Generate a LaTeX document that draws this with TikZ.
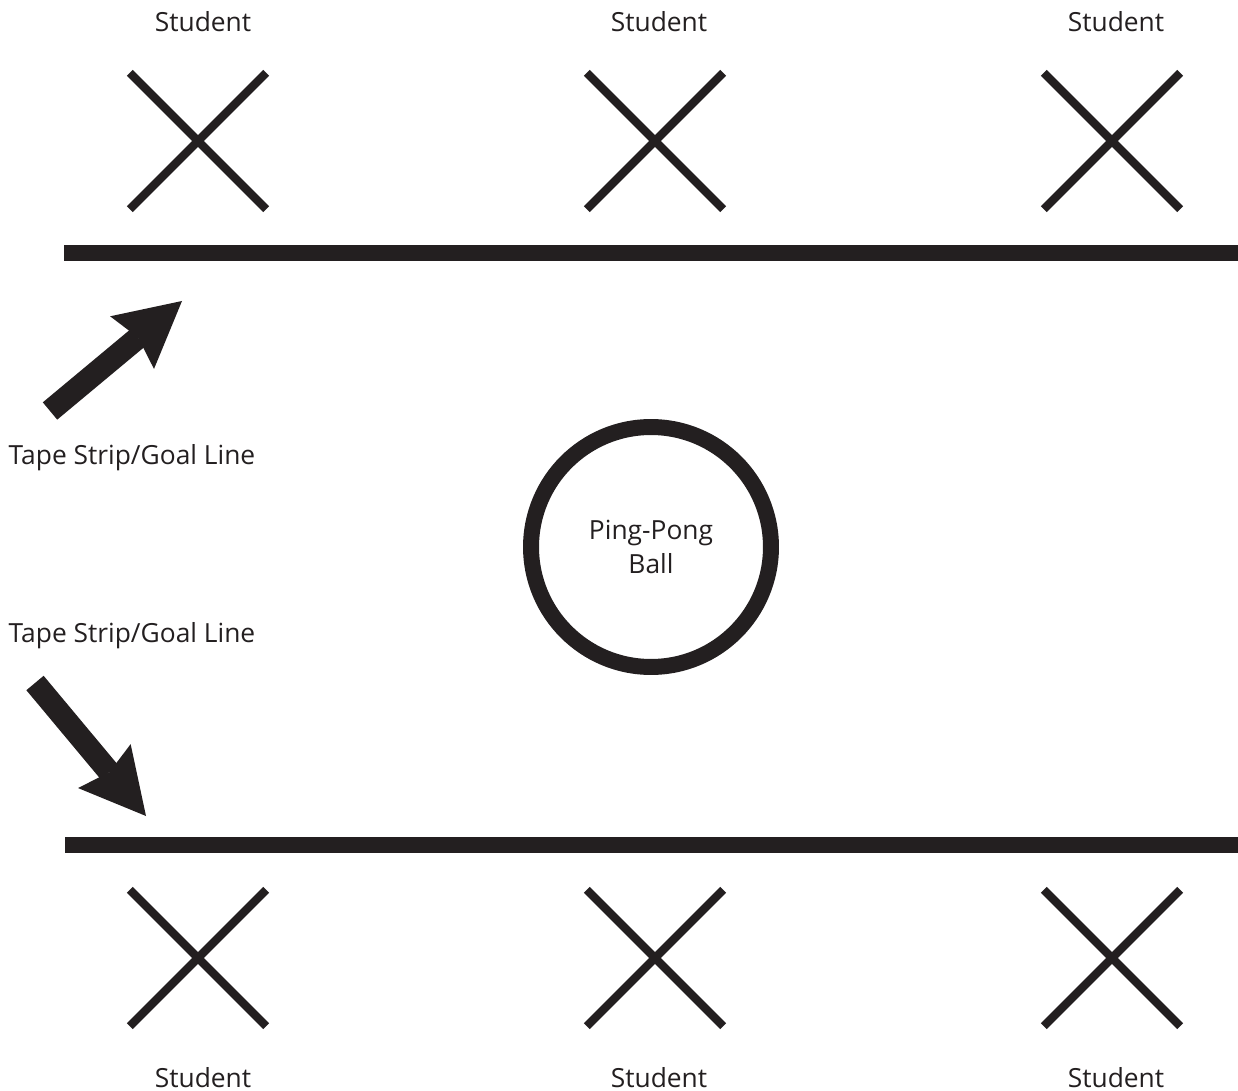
\documentclass[tikz,border=0pt]{standalone}
\usepackage{fontspec}
\setmainfont{Open Sans}
\usetikzlibrary{arrows.meta, shapes.misc}
\definecolor{ink}{HTML}{231F20}
\tikzset{
    x=0.02cm, y=-0.02cm, % one unit is one pixel of the sheet, y grows downward
    every node/.style={text=ink, font=\fontsize{15}{19.8}\selectfont},
    student/.style={cross out, draw=ink, line width=4.8pt, minimum size=2.56cm, inner sep=0pt}, % a student's spot
    caption/.style={anchor=base}, % text placed on its baseline
    tape/.style={draw=ink, line width=9.1pt}, % the goal line
    ball/.style={circle, draw=ink, line width=9.1pt, minimum size=4.8cm, inner sep=0pt, align=center},
    pointer/.style={draw=ink, line width=12.8pt,
        -{Stealth[length=37pt, width=39pt, inset=4.5pt, line width=0pt, fill=ink]}},
}

\begin{document}
\begin{tikzpicture}
    \useasboundingbox (0,0) rectangle (1238,1091);
    % students above the top line
    \node[student] (t1) at (198,141) {};
    \node[student] (t2) at (655,141) {};
    \node[student] (t3) at (1112,141) {};
    \node[caption] (tl1) at (203,32) {Student};
    \node[caption] (tl2) at (659,32) {Student};
    \node[caption] (tl3) at (1116,32) {Student};
    % students below the bottom line
    \node[student] (b1) at (198,958) {};
    \node[student] (b2) at (655,958) {};
    \node[student] (b3) at (1112,958) {};
    \node[caption] (bl1) at (203,1087) {Student};
    \node[caption] (bl2) at (659,1087) {Student};
    \node[caption] (bl3) at (1116,1087) {Student};
    % goal lines
    \draw[tape] (64,253) -- (1238,253);
    \draw[tape] (65,845) -- (1238,845);
    % the ball
    \node[ball] (ball) at (651,547) {Ping-Pong\\Ball};
    % labels with their arrows
    \node[caption] (tape1) at (132,464) {Tape Strip/Goal Line};
    \node[caption] (tape2) at (132,642) {Tape Strip/Goal Line};
    \coordinate (a1tail) at (50,411);
    \coordinate (a1tip) at (182,301);
    \coordinate (a2tail) at (35,683);
    \coordinate (a2tip) at (146,816);
    \draw[pointer] (a1tail) -- (a1tip);
    \draw[pointer] (a2tail) -- (a2tip);
\end{tikzpicture}
\end{document}
